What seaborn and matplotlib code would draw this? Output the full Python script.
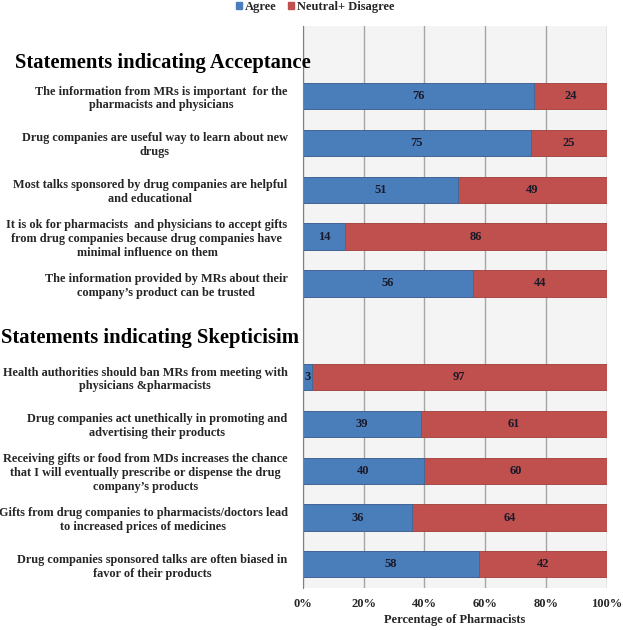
import matplotlib.pyplot as plt
import matplotlib.transforms as mtransforms
import seaborn as sns
import pandas as pd
from matplotlib.patches import Patch

statements = [
    "The information from MRs is important  for the\npharmacists and physicians",
    "Drug companies are useful way to learn about new\ndrugs",
    "Most talks sponsored by drug companies are helpful\nand educational",
    "It is ok for pharmacists  and physicians to accept gifts\nfrom drug companies because drug companies have\nminimal influence on them",
    "The information provided by MRs about their\ncompany\u2019s product can be trusted",
    "Health authorities should ban MRs from meeting with\nphysicians &pharmacists",
    "Drug companies act unethically in promoting and\nadvertising their products",
    "Receiving gifts or food from MDs increases the chance\nthat I will eventually prescribe or dispense the drug\ncompany\u2019s products",
    "Gifts from drug companies to pharmacists/doctors lead\nto increased prices of medicines",
    "Drug companies sponsored talks are often biased in\nfavor of their products",
]
agree = [76, 75, 51, 14, 56, 3, 39, 40, 36, 58]
disagree = [24, 25, 49, 86, 44, 97, 61, 60, 64, 42]
headers = ["Statements indicating Acceptance", "Statements indicating Skepticisim"]
ticks = [0, 20, 40, 60, 80, 100]

BLUE = "#4a7ebb"
RED = "#c0504d"

sns.set_style("white")
plt.rcParams["font.family"] = ["Liberation Serif", "DejaVu Serif"]
plt.rcParams["font.weight"] = "bold"

df = pd.DataFrame({"statement": statements, "agree": agree, "disagree": disagree})
df["total"] = df["agree"] + df["disagree"]

# header rows are empty slots in the category order
order = [headers[0]] + statements[:5] + [headers[1]] + statements[5:]

fig = plt.figure(figsize=(6.23, 6.30), dpi=100)
ax = fig.add_axes([0.486, 0.067, 0.488, 0.892])
ax.set_facecolor("#f4f4f4")

# stacked: full bar in red, agree part in blue on top
sns.barplot(ax=ax, data=df, x="total", y="statement", order=order, orient="h",
            color=RED, saturation=1, width=0.56, edgecolor="#9e3c39", linewidth=0.6)
sns.barplot(ax=ax, data=df, x="agree", y="statement", order=order, orient="h",
            color=BLUE, saturation=1, width=0.56, edgecolor="#3a6699", linewidth=0.6)

red_bars = ax.containers[0]
blue_bars = ax.containers[1]
ax.bar_label(blue_bars, labels=[str(v) for v in agree], label_type="center",
             fontsize=9, fontweight="bold", color="#1a1a2a")
for bar, v in zip(red_bars, disagree):
    a = bar.get_width() - v
    ax.text(a + v / 2, bar.get_y() + bar.get_height() / 2, str(v), ha="center", va="center",
            fontsize=9, fontweight="bold", color="#1a1a2a")

ax.set_xlim(0, 100)
ax.set_xticks(ticks)
ax.set_xticklabels([f"{t}%" for t in ticks], fontsize=9, fontweight="bold")
ax.xaxis.grid(True, color="#a6a6a6", linewidth=1)
ax.set_axisbelow(True)
ax.tick_params(axis="x", length=5, color="#a6a6a6", pad=2)
ax.tick_params(axis="y", length=0, pad=11)
ax.set_xlabel("Percentage of Pharmacists", fontsize=9, fontweight="bold", labelpad=3)
ax.set_ylabel("")

ylabels = ["" if t in headers else t for t in order]
ax.set_yticks(range(len(order)))
ax.set_yticklabels(ylabels, fontsize=8.8, fontweight="bold")
for lab in ax.get_yticklabels():
    lab.set_multialignment("center")

for s in ["top", "right", "bottom"]:
    ax.spines[s].set_visible(False)
ax.spines["left"].set_color("#808080")

# section headers: x in figure coords, y in data coords
trans = mtransforms.blended_transform_factory(fig.transFigure, ax.transData)
for h, xpx, off in zip(headers, [15, 1], [0.3, 0.17]):
    ax.text(xpx / 623, order.index(h) + off, h, transform=trans,
            ha="left", va="center", fontsize=14.9, fontweight="bold", color="black", zorder=5)

handles = [Patch(facecolor=BLUE, edgecolor=BLUE), Patch(facecolor=RED, edgecolor=RED)]
fig.legend(handles, ["Agree", "Neutral+ Disagree"], loc="upper center",
           bbox_to_anchor=(0.506, 1.0), ncol=2, frameon=False,
           borderaxespad=0.0, borderpad=0.1,
           handlelength=0.5, handleheight=0.5, handletextpad=0.2, columnspacing=0.9,
           prop={"weight": "bold", "size": 9})

fig.savefig("out.png", dpi=100)
